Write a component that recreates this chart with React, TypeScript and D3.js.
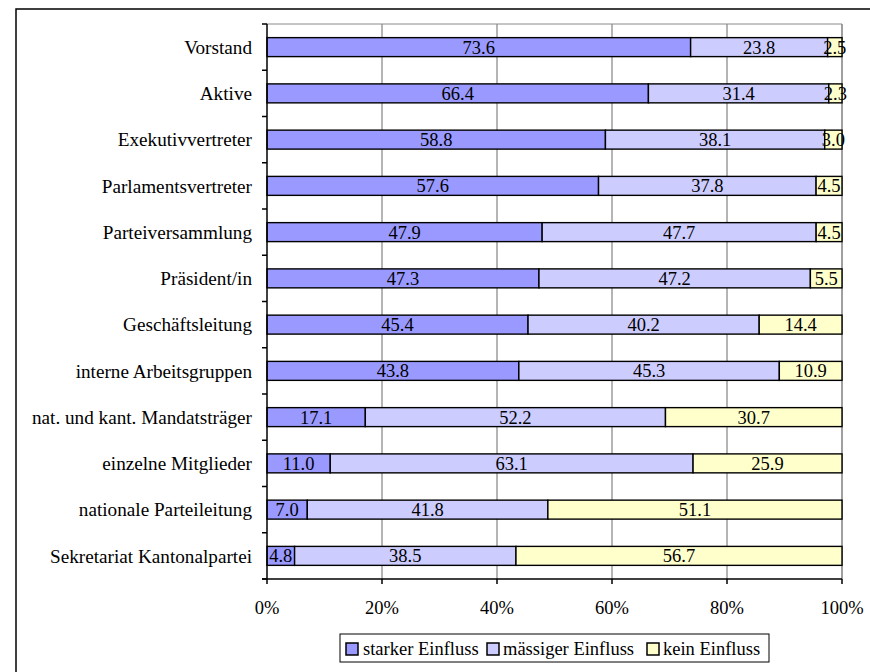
import React from "react";
import * as d3 from "d3";

const categories = [
  "Vorstand",
  "Aktive",
  "Exekutivvertreter",
  "Parlamentsvertreter",
  "Parteiversammlung",
  "Präsident/in",
  "Geschäftsleitung",
  "interne Arbeitsgruppen",
  "nat. und kant. Mandatsträger",
  "einzelne Mitglieder",
  "nationale Parteileitung",
  "Sekretariat Kantonalpartei",
];
const starker = [73.6, 66.4, 58.8, 57.6, 47.9, 47.3, 45.4, 43.8, 17.1, 11.0, 7.0, 4.8];
const maessiger = [23.8, 31.4, 38.1, 37.8, 47.7, 47.2, 40.2, 45.3, 52.2, 63.1, 41.8, 38.5];
const kein = [2.5, 2.3, 3.0, 4.5, 4.5, 5.5, 14.4, 10.9, 30.7, 25.9, 51.1, 56.7];
const seriesNames = ["starker Einfluss", "mässiger Einfluss", "kein Einfluss"];
const seriesColors = ["#9999FF", "#CCCCFF", "#FFFFCC"];
const xTicks = [0, 0.2, 0.4, 0.6, 0.8, 1.0];

const W = 870;
const H = 672;
const FONT = "'Liberation Serif', 'Times New Roman', serif";
const FS = 18.5;
const FS_CAT = 19.2;

export default function App() {
  const left = 267, right = 842, top = 24, bottom = 579;
  const x = d3.scaleLinear().domain([0, 1]).range([left, right]);
  const y = d3
    .scaleBand<string>()
    .domain(categories)
    .range([top, bottom])
    .paddingInner(0.59)
    .paddingOuter(0.295);
  const step = y.step();

  const rows = categories.map((c, i) => ({
    cat: c,
    s0: starker[i],
    s1: maessiger[i],
    s2: kein[i],
  }));
  const stack = d3
    .stack<any>()
    .keys(["s0", "s1", "s2"])
    .offset(d3.stackOffsetExpand);
  const stacked = stack(rows);
  const rawSeries = [starker, maessiger, kein];

  const fmt = d3.format(".1f");

  const legX = 340, legY = 634, legW = 429, legH = 28;
  const legendItems = [
    { sw: 346, tx: 363 },
    { sw: 487, tx: 503 },
    { sw: 647, tx: 663 },
  ];

  return (
    <svg
      width={W}
      height={H}
      style={{ position: "absolute", left: 0, top: 0, background: "#fff" }}
      fontFamily={FONT}
    >
      <rect x={0} y={0} width={W} height={H} fill="#fff" />
      <rect x={16} y={9} width={W} height={H} fill="none" stroke="#000" strokeWidth={1.5} />

      {xTicks.slice(1).map((t) => (
        <line key={"g" + t} x1={x(t)} x2={x(t)} y1={top} y2={bottom} stroke="#6a6a6a" strokeWidth={1} />
      ))}
      <line x1={left} x2={right} y1={top} y2={top} stroke="#8a8a8a" strokeWidth={1} />
      <line x1={right} x2={right} y1={top} y2={bottom} stroke="#8a8a8a" strokeWidth={1} />

      {stacked.map((s, si) =>
        s.map((d, i) => {
          const x0 = x(d[0]);
          const x1 = x(d[1]);
          const yy = y(categories[i])!;
          return (
            <rect
              key={si + "-" + i}
              x={x0}
              y={yy}
              width={x1 - x0}
              height={y.bandwidth()}
              fill={seriesColors[si]}
              stroke="#000"
              strokeWidth={1.4}
            />
          );
        })
      )}
      {stacked.map((s, si) =>
        s.map((d, i) => {
          const cx = (x(d[0]) + x(d[1])) / 2;
          const cy = y(categories[i])! + y.bandwidth() / 2;
          return (
            <text
              key={"l" + si + "-" + i}
              x={cx}
              y={cy}
              dy="0.35em"
              textAnchor="middle"
              fontSize={FS}
              fill="#000"
            >
              {fmt(rawSeries[si][i])}
            </text>
          );
        })
      )}

      <line x1={left} x2={left} y1={top} y2={bottom} stroke="#000" strokeWidth={1.5} />
      {d3.range(categories.length + 1).map((k) => (
        <line key={"yt" + k} x1={left - 5} x2={left} y1={top + k * step} y2={top + k * step} stroke="#000" strokeWidth={1.5} />
      ))}
      {categories.map((c) => (
        <text
          key={"c" + c}
          x={252}
          y={y(c)! + y.bandwidth() / 2}
          dy="0.35em"
          textAnchor="end"
          fontSize={FS_CAT}
          fill="#000"
        >
          {c}
        </text>
      ))}

      <line x1={left - 5} x2={right} y1={bottom} y2={bottom} stroke="#000" strokeWidth={1.5} />
      {xTicks.map((t) => (
        <line key={"xt" + t} x1={x(t)} x2={x(t)} y1={bottom} y2={bottom + 5} stroke="#000" strokeWidth={1.5} />
      ))}
      {xTicks.map((t) => (
        <text key={"xl" + t} x={x(t)} y={608} dy="0.35em" textAnchor="middle" fontSize={FS} fill="#000">
          {d3.format(".0%")(t)}
        </text>
      ))}

      <rect x={legX} y={legY} width={legW} height={legH} fill="#fff" stroke="#000" strokeWidth={1} />
      {seriesNames.map((n, i) => (
        <g key={"lg" + n}>
          <rect x={legendItems[i].sw} y={643} width={12} height={12} fill={seriesColors[i]} stroke="#000" strokeWidth={1.5} />
          <text x={legendItems[i].tx} y={649} dy="0.35em" fontSize={FS} fill="#000">
            {n}
          </text>
        </g>
      ))}
    </svg>
  );
}
